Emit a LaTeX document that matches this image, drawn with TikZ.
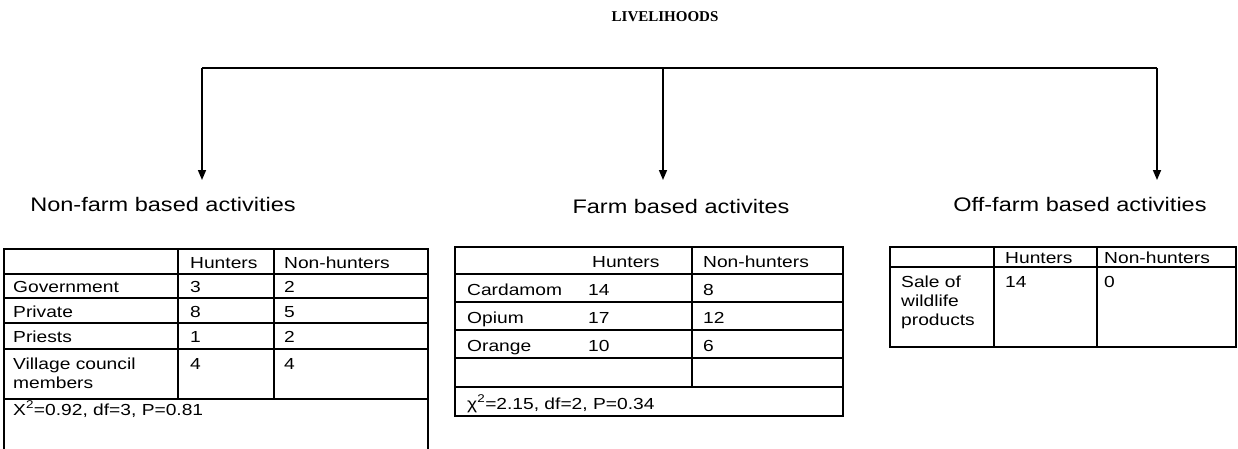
\documentclass[tikz,border=0pt]{standalone}
\usepackage{fontspec}
\setmainfont{Liberation Sans}[FakeStretch=1.2]
\newfontfamily\titlefont{Liberation Serif}[FakeStretch=1.0]
\usetikzlibrary{arrows.meta}
\begin{document}
\begin{tikzpicture}[x=1pt,y=-1pt,
  tree/.style={line width=1.6pt},
  branch/.style={tree,-{Triangle[width=8pt,length=10pt]}},
  grid/.style={line width=2pt},
  cell/.style={anchor=base west,inner sep=0pt,font=\fontsize{16}{17}\selectfont},
  lbl/.style={anchor=base,inner sep=0pt,font=\fontsize{19.6}{22}\selectfont},
  ttl/.style={anchor=base,inner sep=0pt,font=\titlefont\bfseries\fontsize{15}{16}\selectfont}]
\useasboundingbox (0,0) rectangle (1238,448);
\fill[white] (0,0) rectangle (1238,448);
% title
\node[ttl] (title) at (665,21) {LIVELIHOODS};
% tree
\coordinate (j1) at (202,68);
\coordinate (j2) at (663,68);
\coordinate (j3) at (1157,68);
\coordinate (t1) at (202,180);
\coordinate (t2) at (663,180);
\coordinate (t3) at (1157,180);
\draw[tree] (j1) -- (j3);
\draw[branch] (j1) -- (t1);
\draw[branch] (j2) -- (t2);
\draw[branch] (j3) -- (t3);
\node[lbl] (l1) at (163,211) {Non-farm based activities};
\node[lbl] (l2) at (681,213) {Farm based activites};
\node[lbl] (l3) at (1080,211) {Off-farm based activities};
% ---------- table 1 ----------
\draw[grid] (4,449) -- (4,249) -- (428,249) -- (428,449);
\foreach \y in {274,298,323,349,399} \draw[grid] (4,\y) -- (428,\y);
\draw[grid] (178,249) -- (178,399);
\draw[grid] (274,249) -- (274,399);
\node[cell] (a01) at (190,268) {Hunters};
\node[cell] (a02) at (284,268) {Non-hunters};
\node[cell] (a10) at (13,292) {Government};
\node[cell] (a11) at (190,292) {3};
\node[cell] (a12) at (284,292) {2};
\node[cell] (a20) at (13,317) {Private};
\node[cell] (a21) at (190,317) {8};
\node[cell] (a22) at (284,317) {5};
\node[cell] (a30) at (13,342) {Priests};
\node[cell] (a31) at (190,342) {1};
\node[cell] (a32) at (284,342) {2};
\node[cell] (a40) at (13,369) {Village council};
\node[cell] (a40b) at (13,388) {members};
\node[cell] (a41) at (190,369) {4};
\node[cell] (a42) at (284,369) {4};
\node[cell] (a50) at (13,415) {X\textsuperscript{2}=0.92, df=3, P=0.81};
% ---------- table 2 ----------
\draw[grid] (455,247) rectangle (843,416);
\foreach \y in {274,302,330,358,387} \draw[grid] (455,\y) -- (843,\y);
\draw[grid] (692,247) -- (692,387);
\node[cell] (b01) at (592,267) {Hunters};
\node[cell] (b02) at (703,267) {Non-hunters};
\node[cell] (b10) at (467,295) {Cardamom};
\node[cell] (b11) at (588,295) {14};
\node[cell] (b12) at (703,295) {8};
\node[cell] (b20) at (467,323) {Opium};
\node[cell] (b21) at (588,323) {17};
\node[cell] (b22) at (703,323) {12};
\node[cell] (b30) at (467,351) {Orange};
\node[cell] (b31) at (588,351) {10};
\node[cell] (b32) at (703,351) {6};
\node[cell] (b50) at (467,409) {χ\textsuperscript{2}=2.15, df=2, P=0.34};
% ---------- table 3 ----------
\draw[grid] (890,247) rectangle (1236,347);
\draw[grid] (890,267) -- (1236,267);
\draw[grid] (994,247) -- (994,347);
\draw[grid] (1097,247) -- (1097,347);
\node[cell] (c01) at (1005,263) {Hunters};
\node[cell] (c02) at (1104,263) {Non-hunters};
\node[cell] (c10) at (901,287) {Sale of};
\node[cell] (c10b) at (901,306) {wildlife};
\node[cell] (c10c) at (901,325) {products};
\node[cell] (c11) at (1005,287) {14};
\node[cell] (c12) at (1104,287) {0};
\end{tikzpicture}
\end{document}
